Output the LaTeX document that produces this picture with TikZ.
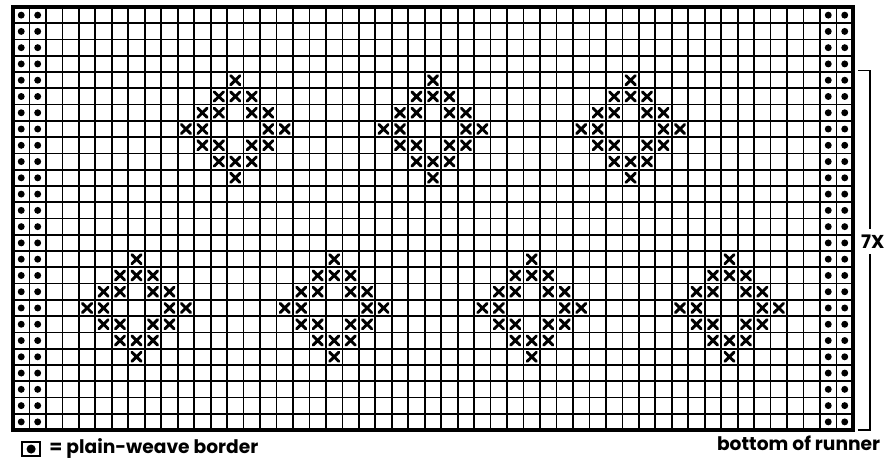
\documentclass[tikz,border=0pt]{standalone}
\usepackage{fontspec}
\setsansfont{Poppins}
\usepackage{tikz}

\begin{document}
\begin{tikzpicture}[x=12.3525pt, y=-12.2025pt,
    gridline/.style={line width=1.3pt},
    frameline/.style={line width=2.4pt},
    stitch/.style={line width=2.2pt, line cap=round},
    bead/.style={fill=black},
    label/.style={font=\sffamily\bfseries\fontsize{14}{16}\selectfont, inner sep=0pt}]

    \useasboundingbox (-0.789,-0.430) rectangle (53.249,27.72);

    % Chart grid, 51 x 26 cells
    \foreach \i in {0,...,51} \draw[gridline] (\i,0) -- (\i,26);
    \foreach \j in {0,...,26} \draw[gridline] (0,\j) -- (51,\j);
    \draw[frameline] (0,0) rectangle (51,26);

    % Plain-weave border: two columns each side
    \foreach \j in {0,...,25}
        \foreach \i in {0,1,49,50}
            \fill[bead] (\i+0.5,\j+0.5) circle (2.6pt);

    % Upper row of diamonds (top at row 4)
    \foreach \cx in {13,25,37}
        \foreach \dx/\dy in {0/0, -1/1,0/1,1/1, -2/2,-1/2,1/2,2/2, -3/3,-2/3,2/3,3/3,
                             -2/4,-1/4,1/4,2/4, -1/5,0/5,1/5, 0/6}
            \draw[stitch] ({\cx+(\dx)+0.22},{4+\dy+0.22}) -- ({\cx+(\dx)+0.78},{4+\dy+0.78})
                          ({\cx+(\dx)+0.78},{4+\dy+0.22}) -- ({\cx+(\dx)+0.22},{4+\dy+0.78});

    % Lower row of diamonds (top at row 15)
    \foreach \cx in {7,19,31,43}
        \foreach \dx/\dy in {0/0, -1/1,0/1,1/1, -2/2,-1/2,1/2,2/2, -3/3,-2/3,2/3,3/3,
                             -2/4,-1/4,1/4,2/4, -1/5,0/5,1/5, 0/6}
            \draw[stitch] ({\cx+(\dx)+0.22},{15+\dy+0.22}) -- ({\cx+(\dx)+0.78},{15+\dy+0.78})
                          ({\cx+(\dx)+0.78},{15+\dy+0.22}) -- ({\cx+(\dx)+0.22},{15+\dy+0.78});

    % Repeat bracket
    \coordinate (brtop) at (52.05,3.9);
    \coordinate (brbot) at (52.05,26);
    \node[label] (reps) at (52.2,14.41) {7X};
    \draw[line width=1.2pt] (51.3,3.9) -- (brtop) -- ([yshift=4pt]reps.north -| brtop);
    \draw[line width=1.2pt] ([yshift=-4pt]reps.south -| brbot) -- (brbot) -- (51.3,26);

    % Captions
    \node[label, anchor=base] (runner) at (47.7,27.25) {bottom of runner};
    \draw[line width=1.6pt] (0.55,26.72) rectangle (1.65,27.62);
    \fill[bead] (1.1,27.17) circle (3.4pt);
    \node[label, anchor=base west] (legend) at (2.2,27.42) {= plain-weave border};
\end{tikzpicture}
\end{document}
